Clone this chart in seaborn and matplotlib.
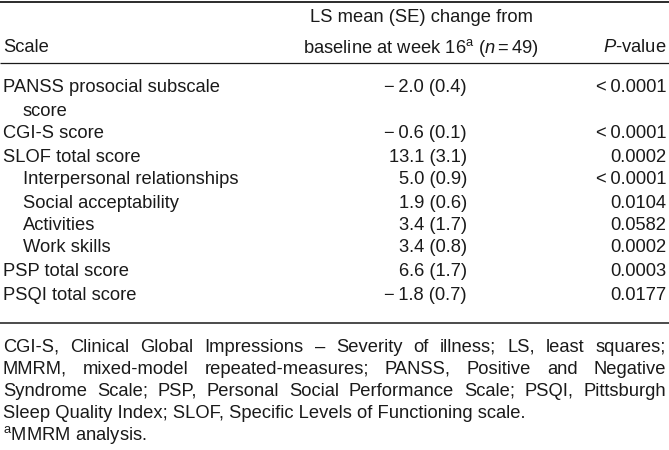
import matplotlib
matplotlib.use("Agg")
import matplotlib.pyplot as plt
import seaborn as sns

sns.set_theme(style="white")
plt.rcParams["font.family"] = ["Liberation Sans", "DejaVu Sans"]
plt.rcParams["mathtext.fontset"] = "custom"
plt.rcParams["mathtext.rm"] = "Liberation Sans"
plt.rcParams["mathtext.it"] = "Liberation Sans:italic"

# table content
scales = ["PANSS prosocial subscale", "score", "CGI-S score", "SLOF total score",
          "Interpersonal relationships", "Social acceptability", "Activities",
          "Work skills", "PSP total score", "PSQI total score"]
indent = [0, 1, 0, 0, 1, 1, 1, 1, 0, 0]
ls_mean = ["\u2212\u20092.0 (0.4)", "", "\u2212\u20090.6 (0.1)", "13.1 (3.1)", "5.0 (0.9)",
           "1.9 (0.6)", "3.4 (1.7)", "3.4 (0.8)", "6.6 (1.7)", "\u2212\u20091.8 (0.7)"]
p_values = ["<\u20090.0001", "", "<\u20090.0001", "0.0002", "<\u20090.0001", "0.0104",
            "0.0582", "0.0002", "0.0003", "0.0177"]
row_y = [87, 111, 134, 157, 180, 203, 225, 248, 272, 295]

footnote = [
    "CGI-S, Clinical Global Impressions \u2013 Severity of illness; LS, least squares;",
    "MMRM, mixed-model repeated-measures; PANSS, Positive and Negative",
    "Syndrome Scale; PSP, Personal Social Performance Scale; PSQI, Pittsburgh",
    "Sleep Quality Index; SLOF, Specific Levels of Functioning scale.",
]
foot_y = [347, 369, 391, 413]

FS = 13.2
INK = "#1a1a1a"
W, H = 669, 450

fig = plt.figure(figsize=(W / 100, H / 100), dpi=100)
ax = fig.add_axes([0, 0, 1, 1])
ax.set_xlim(0, W)
ax.set_ylim(H, 0)
ax.axis("off")

# rules
ax.hlines(1.5, 0, W, color=INK, lw=1.3)
ax.hlines(63, 0, W, color=INK, lw=0.9)
ax.hlines(323, 0, W, color=INK, lw=1.1)

# header
ax.text(3, 48, "Scale", fontsize=FS, color=INK, va="center", ha="left")
ax.text(421, 18, "LS mean (SE) change from", fontsize=FS, color=INK, va="center", ha="center")
ax.text(421, 48, r"baseline at week 16$^{\mathrm{a}}$ ($\mathit{n}=49$)", fontsize=FS,
        color=INK, va="center", ha="center")
ax.text(666, 48, r"$\mathit{P}$-value", fontsize=FS, color=INK, va="center", ha="right")

# body
for name, ind, m, p, y in zip(scales, indent, ls_mean, p_values, row_y):
    ax.text(3 + 20 * ind, y, name, fontsize=FS, color=INK, va="center", ha="left")
    ax.text(467, y, m, fontsize=FS, color=INK, va="center", ha="right")
    ax.text(666, y, p, fontsize=FS, color=INK, va="center", ha="right")

# footnote, justified
fig.canvas.draw()
rend = fig.canvas.get_renderer()
inv = ax.transData.inverted()


def width_of(s):
    t = ax.text(0, 0, s, fontsize=FS)
    bb = t.get_window_extent(rend)
    t.remove()
    x0 = inv.transform((bb.x0, bb.y0))[0]
    x1 = inv.transform((bb.x1, bb.y0))[0]
    return x1 - x0


left, right = 3, 666
for i, (line, y) in enumerate(zip(footnote, foot_y)):
    if i == len(footnote) - 1:
        ax.text(left, y, line, fontsize=FS, color=INK, va="center", ha="left")
        continue
    words = line.split(" ")
    widths = [width_of(w) for w in words]
    gap = (right - left - sum(widths)) / (len(words) - 1)
    x = left
    for w, wd in zip(words, widths):
        ax.text(x, y, w, fontsize=FS, color=INK, va="center", ha="left")
        x += wd + gap

ax.text(left, 435, r"$^{\mathrm{a}}$MMRM analysis.", fontsize=FS, color=INK, va="center", ha="left")

fig.savefig("out.png", dpi=100)
